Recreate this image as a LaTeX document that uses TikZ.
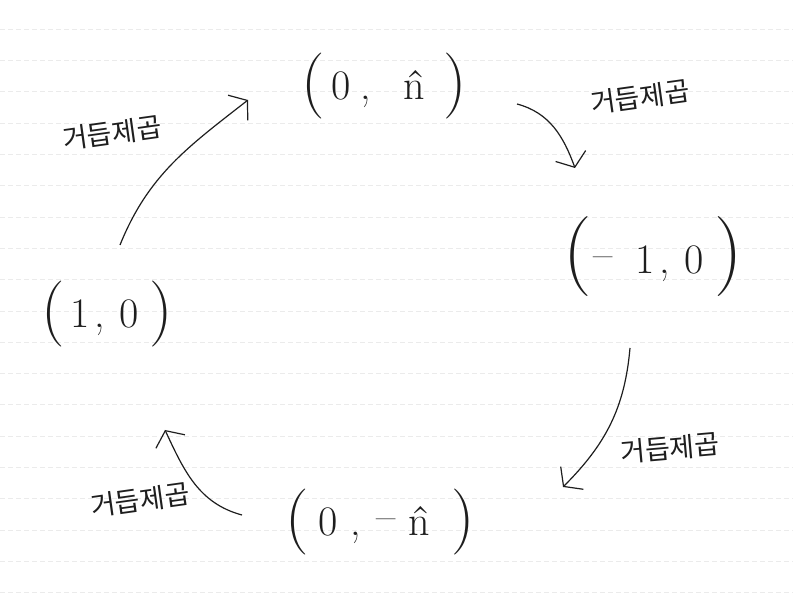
\documentclass[tikz,border=0pt]{standalone}
\usepackage{fontspec}
\newfontfamily\krfont{Noto Sans CJK KR}
\usetikzlibrary{arrows.meta, calc, positioning}
\definecolor{ink}{HTML}{1E1E1E}
\definecolor{ruled}{HTML}{EBEBEB}
\newcommand{\lpar}[1][66]{{\fontsize{#1}{#1}\selectfont\raisebox{-3pt}{(}}}
\newcommand{\rpar}[1][66]{{\fontsize{#1}{#1}\selectfont\raisebox{-3pt}{)}}}
\newcommand{\handminus}{\raisebox{5pt}{--}}
\tikzset{
  pair/.style={font=\fontsize{42}{48}\selectfont, text=ink, inner sep=0pt},
  power/.style={font=\krfont\fontsize{27}{30}\selectfont, text=ink, inner sep=0pt},
  cycle arrow/.style={draw=ink, line width=1.2pt, -{Straight Barb[length=12pt,width=32pt]}},
  rule line/.style={draw=ruled, line width=0.8pt, dash pattern=on 5pt off 3pt},
}

\begin{document}
\begin{tikzpicture}[x=1pt, y=1pt]
  \fill[white] (0,0) rectangle (793,597);
  \useasboundingbox (0,0) rectangle (793,597);
  % notebook lines
  \foreach \k in {0,...,18}
    \draw[rule line] (0,{567.7-31.3*\k}) -- (793,{567.7-31.3*\k});
  % the four values
  \node[pair] (plusn) at (384,511) {\lpar\hspace{7pt}0\hspace{9pt},\hspace{33pt}\^{n}\hspace{18pt}\rpar};
  \node[pair] (minusone) at (653,340) {\lpar[80]\hspace{2pt}\handminus\hspace{22pt}1\hspace{5pt},\hspace{15pt}0\hspace{10pt}\rpar[80]};
  \node[pair] (one) at (107,283) {\lpar\hspace{6pt}1\hspace{5pt},\hspace{14pt}0\hspace{11pt}\rpar};
  \node[pair] (minusn) at (380,75) {\lpar\hspace{10pt}0\hspace{13pt},\hspace{15pt}\handminus\hspace{13pt}\^{n}\hspace{21pt}\rpar};
  % labels
  \node[power, rotate=8] (p1) at (112,464) {거듭제곱};
  \node[power, rotate=8] (p2) at (640,500) {거듭제곱};
  \node[power, rotate=5] (p3) at (670,149) {거듭제곱};
  \node[power, rotate=8] (p4) at (140,97) {거듭제곱};
  % arrows
  \draw[cycle arrow] ($(one)+(13,69)$) to[out=68,in=218] ($(plusn)+(-136,-14)$);
  \draw[cycle arrow] ($(plusn)+(133,-18)$) to[out=-15,in=110] ($(minusone)+(-78,89)$);
  \draw[cycle arrow] ($(minusone)+(-23,-91)$) to[out=-95,in=45] ($(minusn)+(183,35)$);
  \draw[cycle arrow] ($(minusn)+(-138,7)$) to[out=165,in=-65] ($(one)+(58,-116)$);
\end{tikzpicture}
\end{document}
